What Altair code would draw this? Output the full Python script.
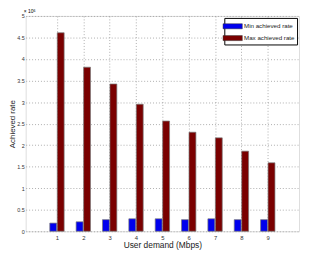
import altair as alt
import pandas as pd

demand = [1, 2, 3, 4, 5, 6, 7, 8, 9]
min_rate = [0.19e6, 0.22e6, 0.27e6, 0.29e6, 0.29e6, 0.27e6, 0.29e6, 0.27e6, 0.27e6]
max_rate = [4.61e6, 3.81e6, 3.42e6, 2.95e6, 2.56e6, 2.30e6, 2.17e6, 1.86e6, 1.59e6]
series = ["Min achieved rate", "Max achieved rate"]
colors = ["#0000ee", "#7a0000"]
y_ticks = [0, 0.5e6, 1e6, 1.5e6, 2e6, 2.5e6, 3e6, 3.5e6, 4e6, 4.5e6, 5e6]

df_min = pd.DataFrame({"demand": demand, "value": min_rate, "series": series[0]})
df_max = pd.DataFrame({"demand": demand, "value": max_rate, "series": series[1]})

FONT = "Liberation Sans"

x_enc = alt.X("demand:Q", scale=alt.Scale(domain=[0, 10], nice=False),
              axis=alt.Axis(values=demand, title="User demand (Mbps)", grid=True,
                            gridDash=[1, 2], gridColor="#999", gridOpacity=0.8,
                            ticks=False, domain=False,
                            labelFontSize=6, titleFontSize=8.5, labelFont=FONT,
                            titleFont=FONT, titleFontWeight="normal", titlePadding=1,
                            labelPadding=3, labelColor="#333", titleColor="#222"))
y_enc = alt.Y("value:Q", scale=alt.Scale(domain=[0, 5e6], nice=False),
              axis=alt.Axis(values=y_ticks, title="Achieved rate",
                            labelExpr="format(datum.value/1e6, '~g')",
                            grid=True, gridDash=[1, 2], gridColor="#999", gridOpacity=0.8,
                            ticks=False, domain=False,
                            labelFontSize=5.5, titleFontSize=8, labelFont=FONT,
                            titleFont=FONT, titleFontWeight="normal", titlePadding=0.5,
                            labelPadding=1.5, labelColor="#333", titleColor="#222"))
color_enc = alt.Color("series:N", scale=alt.Scale(domain=series, range=colors),
                      legend=alt.Legend(title=None, orient="top-right", offset=2,
                                        fillColor="white", strokeColor="#000",
                                        padding=2, labelFontSize=6.3, labelFont=FONT,
                                        labelColor="#222",
                                        symbolType="M-1.6,-0.42H1.6V0.42H-1.6Z",
                                        symbolSize=150, symbolStrokeWidth=0.5,
                                        symbolStrokeColor="#333", rowPadding=1,
                                        labelOffset=5))

bars_min = alt.Chart(df_min).mark_bar(width=7, xOffset=-3.8, stroke="#777",
                                       strokeWidth=0.7).encode(x=x_enc, y=y_enc, color=color_enc)
bars_max = alt.Chart(df_max).mark_bar(width=7, xOffset=3.8, stroke="#777",
                                       strokeWidth=0.7).encode(x=x_enc, y=y_enc, color=color_enc)

exp_base = alt.Chart(pd.DataFrame({"t": ["× 10"]})).mark_text(
    fontSize=5, font=FONT, align="left", baseline="alphabetic").encode(
    x=alt.value(-2), y=alt.value(-2.5), text="t:N")
exp_sup = alt.Chart(pd.DataFrame({"t": ["6"]})).mark_text(
    fontSize=3.5, font=FONT, align="left", baseline="alphabetic").encode(
    x=alt.value(8), y=alt.value(-4.5), text="t:N")

chart = alt.layer(bars_min, bars_max, exp_base, exp_sup).properties(
    width=278, height=219,
    autosize=alt.AutoSizeParams(type="none"),
    padding={"left": 18, "top": 6, "right": 2, "bottom": 20},
).configure_view(stroke="#000", strokeWidth=1).configure(background="white")

chart.save("out.html", embed_options={"renderer": "svg", "actions": False})
